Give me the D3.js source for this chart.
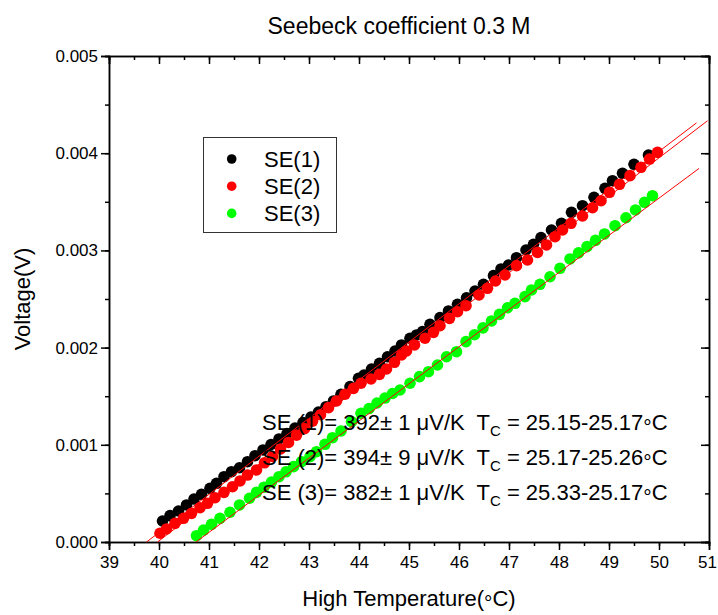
<!DOCTYPE html>
<html>
<head>
<meta charset="utf-8">
<script src="https://cdn.jsdelivr.net/npm/d3@7"></script>
<style>
  html, body { margin: 0; padding: 0; background: #fff; }
  svg { display: block; }
  text { font-family: "Liberation Sans", Arial, sans-serif; fill: #000; }
</style>
</head>
<body>
<svg id="chart" width="718" height="615"></svg>
<script>
// ---------- data ----------
const seriesNames = ["SE(1)", "SE(2)", "SE(3)"];
const seriesColors = ["#000000", "#ff0000", "#00ff00"];

// High temperature (°C) and voltage (mV) for each run
const se1T = [40.07,40.22,40.39,40.55,40.70,40.85,41.02,41.15,41.30,41.45,41.61,41.77,41.92,42.08,42.24,42.40,42.56,42.72,42.88,43.04,43.19,43.34,43.49,43.64,43.82,43.99,44.10,44.25,44.41,44.57,44.72,44.85,45.02,45.15,45.27,45.42,45.62,45.79,45.97,46.15,46.32,46.49,46.69,46.84,46.99,47.15,47.34,47.49,47.64,47.85,48.05,48.25,48.47,48.70,48.92,49.07,49.27,49.50,49.79];
const se1mV = [0.216,0.271,0.319,0.381,0.442,0.491,0.552,0.604,0.672,0.723,0.764,0.826,0.888,0.947,1.003,1.060,1.116,1.173,1.229,1.286,1.337,1.392,1.451,1.520,1.598,1.684,1.718,1.780,1.838,1.906,1.965,2.027,2.096,2.130,2.164,2.240,2.308,2.377,2.445,2.513,2.582,2.651,2.740,2.809,2.850,2.925,3.004,3.063,3.131,3.210,3.279,3.392,3.460,3.546,3.639,3.717,3.793,3.886,3.981];

const se2T = [40.02,40.15,40.32,40.49,40.65,40.82,40.97,41.12,41.30,41.47,41.62,41.77,41.95,42.11,42.27,42.43,42.59,42.75,42.91,43.07,43.23,43.39,43.55,43.72,43.89,44.04,44.24,44.41,44.55,44.71,44.85,44.95,45.11,45.32,45.49,45.62,45.81,45.97,46.14,46.40,46.57,46.73,46.92,47.15,47.37,47.57,47.75,47.92,48.07,48.24,48.47,48.67,48.84,49.01,49.21,49.42,49.64,49.81,49.97];
const se2mV = [0.090,0.134,0.192,0.244,0.295,0.353,0.398,0.456,0.511,0.569,0.628,0.689,0.741,0.815,0.880,0.957,1.024,1.100,1.166,1.243,1.309,1.382,1.451,1.520,1.581,1.633,1.677,1.725,1.780,1.849,1.924,1.965,2.027,2.096,2.157,2.225,2.301,2.369,2.431,2.541,2.610,2.685,2.747,2.843,2.901,2.980,3.056,3.141,3.210,3.279,3.354,3.439,3.511,3.598,3.680,3.769,3.855,3.940,4.009];

const se3T = [40.75,40.89,41.05,41.22,41.42,41.61,41.81,41.95,42.10,42.25,42.40,42.54,42.69,42.85,43.02,43.15,43.32,43.47,43.64,43.85,44.04,44.20,44.36,44.52,44.67,44.82,45.02,45.21,45.39,45.57,45.75,45.95,46.14,46.31,46.48,46.65,46.81,46.97,47.12,47.32,47.45,47.62,47.82,48.02,48.22,48.39,48.56,48.73,48.91,49.12,49.34,49.53,49.71,49.87];
const se3mV = [0.065,0.123,0.182,0.244,0.306,0.381,0.450,0.511,0.564,0.617,0.672,0.722,0.775,0.826,0.878,0.929,1.005,1.073,1.142,1.238,1.324,1.373,1.430,1.481,1.528,1.564,1.633,1.701,1.752,1.821,1.906,1.958,2.061,2.132,2.203,2.274,2.342,2.410,2.456,2.524,2.593,2.651,2.729,2.816,2.912,2.975,3.039,3.103,3.169,3.254,3.336,3.416,3.495,3.563];

// linear fits: V = slope * (T - T0), drawn from T0 to Tend
const fitSlopeVperK = [0.000392, 0.000394, 0.000382];
const fitStartT = [39.75, 39.97, 40.74];
const fitEndT = [50.75, 50.97, 50.80];

const xTickValues = [39,40,41,42,43,44,45,46,47,48,49,50,51];
const yTickValues = [0,0.001,0.002,0.003,0.004,0.005];

const titleText = "Seebeck coefficient 0.3 M";
const xTitleMain = "High Temperature(";
const xTitleEnd = "C)";
const yTitle = "Voltage(V)";
const annoSE = ["SE (1)= 392\u00b1 1 \u03bcV/K  T", "SE (2)= 394\u00b1 9 \u03bcV/K  T", "SE (3)= 382\u00b1 1 \u03bcV/K  T"];
const annoTc = [" = 25.15-25.17", " = 25.17-25.26", " = 25.33-25.17"];

// ---------- layout ----------
const svg = d3.select("#chart");
const L = 109, R = 709, T = 56, B = 542;
const x = d3.scaleLinear().domain([39, 51]).range([L, R]);
const y = d3.scaleLinear().domain([0, 0.005]).range([B, T]);

const xMinor = d3.range(39, 51.01, 0.5);
const yMinor = d3.range(0, 0.00501, 0.0005);

// helper: ring-style degree sign sitting at mid height, then "C"
function addDegC(textSel, tail) {
  textSel.append("tspan").attr("dy", 3.5).style("font-size", "21px").text("\u00b0");
  textSel.append("tspan").attr("dy", -3.5).text(tail);
}

// title
svg.append("text").attr("x", 399).attr("y", 34).attr("text-anchor", "middle")
  .style("font-size", "23px").text(titleText);

// axes
const majLen = 8, minLen = 4;
svg.append("g").attr("class", "xaxis").attr("transform", `translate(0,${B})`)
  .call(d3.axisBottom(x).tickValues(xTickValues).tickFormat(d3.format("d")).tickSize(majLen).tickPadding(6));
svg.append("g").attr("transform", `translate(0,${B})`)
  .call(d3.axisBottom(x).tickValues(xMinor).tickFormat("").tickSize(minLen));
svg.append("g").attr("class", "yaxis").attr("transform", `translate(${L},0)`)
  .call(d3.axisLeft(y).tickValues(yTickValues).tickFormat(d3.format(".3f")).tickSize(majLen).tickPadding(3));
svg.append("g").attr("transform", `translate(${L},0)`)
  .call(d3.axisLeft(y).tickValues(yMinor).tickFormat("").tickSize(minLen));
// top & right: inward ticks
svg.append("g").attr("transform", `translate(0,${T})`)
  .call(d3.axisBottom(x).tickValues(xTickValues).tickFormat("").tickSize(majLen));
svg.append("g").attr("transform", `translate(0,${T})`)
  .call(d3.axisBottom(x).tickValues(xMinor).tickFormat("").tickSize(minLen));
svg.append("g").attr("transform", `translate(${R},0)`)
  .call(d3.axisLeft(y).tickValues(yTickValues).tickFormat("").tickSize(majLen));
svg.append("g").attr("transform", `translate(${R},0)`)
  .call(d3.axisLeft(y).tickValues(yMinor).tickFormat("").tickSize(minLen));

svg.selectAll(".domain").attr("stroke", "#000").attr("stroke-width", 1.5);
svg.selectAll(".tick line").attr("stroke", "#000").attr("stroke-width", 1.5);
svg.selectAll(".tick text").style("font-size", "17px").attr("font-family", "Liberation Sans, Arial, sans-serif");
// keep the last x label inside the window
svg.selectAll(".xaxis .tick text").filter(d => d === 51).attr("dx", -2);

// axis titles
const xt = svg.append("text").attr("x", (L + R) / 2).attr("y", 606).attr("text-anchor", "middle")
  .style("font-size", "22px");
xt.append("tspan").text(xTitleMain);
addDegC(xt, xTitleEnd);
svg.append("text").attr("transform", `translate(30,${(T + B) / 2}) rotate(-90)`).attr("text-anchor", "middle")
  .style("font-size", "22px").text(yTitle);

// points
const seriesT = [se1T, se2T, se3T];
const seriesmV = [se1mV, se2mV, se3mV];
const plot = svg.append("g");
seriesT.forEach((ts, i) => {
  plot.append("g").selectAll("circle")
    .data(ts.map((t, j) => [t, seriesmV[i][j] / 1000]))
    .join("circle")
    .attr("cx", d => x(d[0])).attr("cy", d => y(d[1])).attr("r", 5.8)
    .attr("fill", seriesColors[i]);
});

// fit lines
const line = d3.line().x(d => x(d[0])).y(d => y(d[1]));
fitSlopeVperK.forEach((s, i) => {
  const pts = [[fitStartT[i], 0], [fitEndT[i], s * (fitEndT[i] - fitStartT[i])]];
  plot.append("path").attr("d", line(pts)).attr("stroke", "#ff0000").attr("stroke-width", 1).attr("fill", "none");
});

// legend
const lg = svg.append("g");
lg.append("rect").attr("x", 203.5).attr("y", 137.5).attr("width", 133).attr("height", 95)
  .attr("fill", "#fff").attr("stroke", "#333").attr("stroke-width", 1);
seriesNames.forEach((n, i) => {
  const cy = 159 + i * 27.2;
  lg.append("circle").attr("cx", 231.7).attr("cy", cy).attr("r", 4.8).attr("fill", seriesColors[i]);
  lg.append("text").attr("x", 264).attr("y", cy + 8).style("font-size", "22px").text(n);
});

// annotations
const annoY = [430, 465, 500];
annoSE.forEach((s, i) => {
  const t = svg.append("text").attr("x", 262).attr("y", annoY[i]).style("font-size", "22px")
    .style("white-space", "pre");
  t.append("tspan").text(s);
  t.append("tspan").attr("dy", 6).style("font-size", "15px").text("C");
  t.append("tspan").attr("dy", -6).text(annoTc[i]);
  addDegC(t, "C");
});
</script>
</body>
</html>
